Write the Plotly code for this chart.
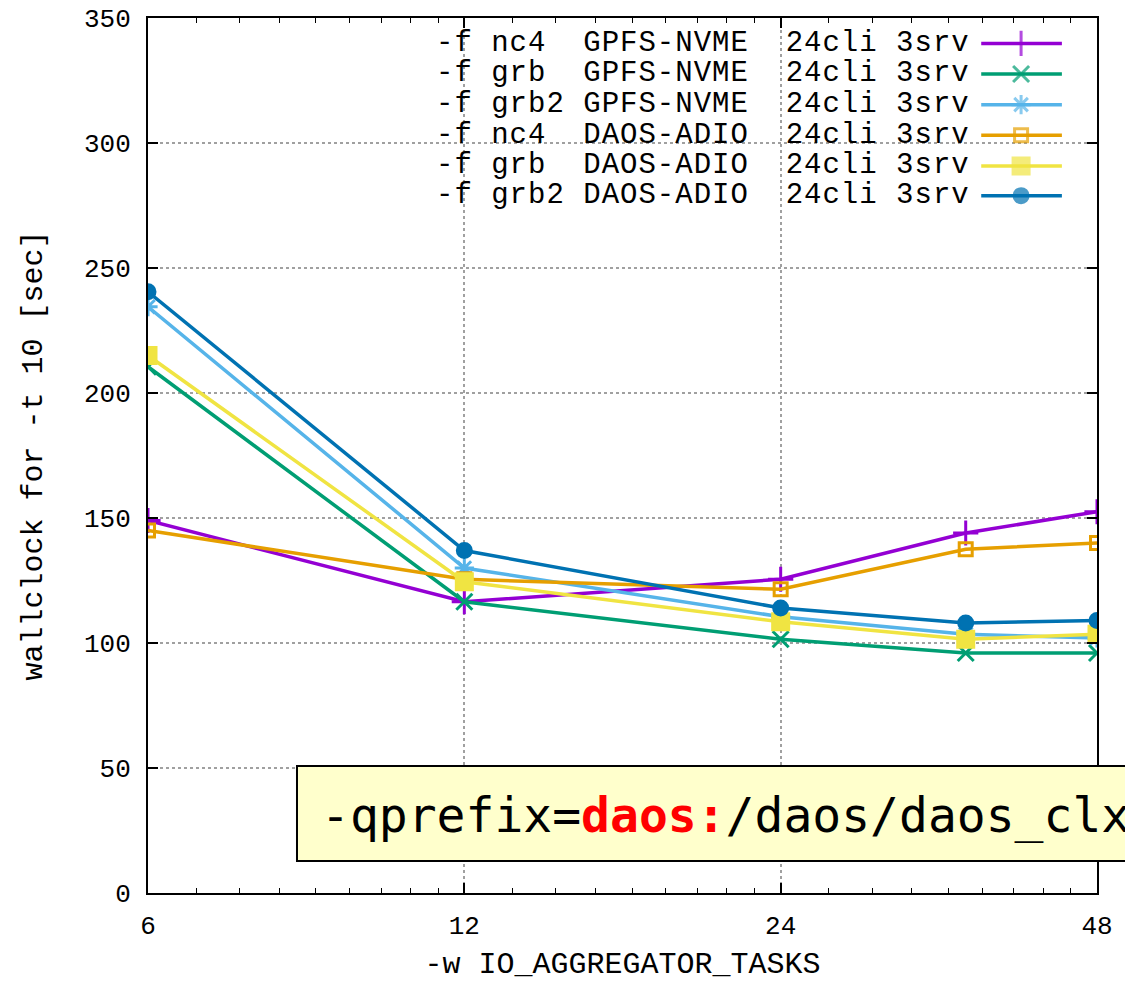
import plotly.graph_objects as go

# ---- data ----
tasks = [6, 12, 24, 36, 48]
nc4_gpfs = [149, 116.5, 125.5, 144, 152.5]
grb_gpfs = [210.5, 116.5, 101.5, 96, 96]
grb2_gpfs = [234.5, 130, 110.5, 103.5, 102]
nc4_daos = [145, 125.5, 121.5, 137.5, 140]
grb_daos = [215, 124.5, 108.5, 101.5, 103.5]
grb2_daos = [240.5, 137, 114, 108, 109]

x_ticks = [6, 12, 24, 48]
y_ticks = [0, 50, 100, 150, 200, 250, 300, 350]

labels = [
    "-f nc4  GPFS-NVME  24cli 3srv",
    "-f grb  GPFS-NVME  24cli 3srv",
    "-f grb2 GPFS-NVME  24cli 3srv",
    "-f nc4  DAOS-ADIO  24cli 3srv",
    "-f grb  DAOS-ADIO  24cli 3srv",
    "-f grb2 DAOS-ADIO  24cli 3srv",
]
series = [nc4_gpfs, grb_gpfs, grb2_gpfs, nc4_daos, grb_daos, grb2_daos]
colors = ["#9400d3", "#009e73", "#56b4e9", "#e69f00", "#f0e442", "#0072b2"]
symbols = ["cross-thin", "x-thin", "asterisk", "square-open", "square", "circle"]
msizes = [18, 16, 16, 13, 16, 14]

FONT = "Liberation Mono"

# minor ticks, linear within each doubling (gnuplot style)
minor = []
for a, b in zip(x_ticks[:-1], x_ticks[1:]):
    step = (b - a) / 9
    minor += [a + k * step for k in range(1, 9)]

fig = go.Figure()

for lab, ys, c, s, ms in zip(labels, series, colors, symbols, msizes):
    fig.add_trace(go.Scatter(
        x=tasks, y=ys, mode="lines+markers", name=lab,
        line=dict(color=c, width=3.5),
        marker=dict(symbol=s, size=ms, color=c,
                    line=dict(color=c, width=3)),
        showlegend=False,
    ))

# custom legend (text left, sample right), on an overlay axis in [0,1]
leg_rows = [0.971, 0.936, 0.901, 0.866, 0.831, 0.797]
lx0, lxm, lx1 = 0.878, 0.920, 0.963
for lab, c, s, ms, ry in zip(labels, colors, symbols, msizes, leg_rows):
    fig.add_trace(go.Scatter(
        x=[lx0, lxm, lx1], y=[ry, ry, ry], xaxis="x2", yaxis="y2",
        mode="lines+markers", showlegend=False, hoverinfo="skip",
        line=dict(color=c, width=3.5),
        marker=dict(symbol=s, size=[0, ms, 0], color=c,
                    line=dict(color=c, width=3)),
    ))
    fig.add_annotation(xref="paper", yref="paper", x=0.868, y=ry,
                       xanchor="right", yanchor="middle", showarrow=False,
                       text="<span style='letter-spacing:1px'>"
                            + lab.replace(" ", "&nbsp;") + "</span>",
                       font=dict(family=FONT, size=29, color="black"))

# yellow callout box
fig.add_shape(type="rect", xref="paper", yref="paper",
              x0=0.157, x1=1.05, y0=0.0366, y1=0.1451,
              fillcolor="#ffffcc", line=dict(color="black", width=2),
              layer="above")
fig.add_annotation(xref="paper", yref="paper", x=0.180, y=0.089,
                   xanchor="left", yanchor="middle", showarrow=False,
                   text="-qprefix=<b><span style='color:#ff0000'>daos:</span></b>/daos/daos_clx",
                   font=dict(family="DejaVu Sans Mono", size=48, color="black"))

fig.update_layout(
    width=1125, height=982,
    margin=dict(l=148, r=28, t=18, b=89),
    paper_bgcolor="white", plot_bgcolor="white",
    font=dict(family=FONT, color="black"),
    xaxis=dict(
        type="log", range=[0.778151, 1.681241],
        tickvals=x_ticks, ticktext=[str(v) for v in x_ticks],
        ticks="inside", ticklen=10, tickwidth=1.5, tickcolor="black",
        minor=dict(tickvals=minor, ticks="inside", ticklen=5,
                   tickcolor="black", tickwidth=1.2, showgrid=False),
        showline=True, linecolor="black", linewidth=2, mirror="ticks",
        showgrid=True, gridcolor="#a0a0a0", griddash="dot", gridwidth=1.5,
        zeroline=False, tickfont=dict(family=FONT, size=26),
        ticklabelstandoff=8,
        title=dict(text="-w IO_AGGREGATOR_TASKS", standoff=22,
                   font=dict(family=FONT, size=30)),
        automargin=False,
    ),
    yaxis=dict(
        range=[0, 350], tickvals=y_ticks,
        ticks="inside", ticklen=10, tickwidth=1.5, tickcolor="black",
        showline=True, linecolor="black", linewidth=2, mirror="ticks",
        showgrid=True, gridcolor="#a0a0a0", griddash="dot", gridwidth=1.5,
        zeroline=False, tickfont=dict(family=FONT, size=26),
        ticklabelstandoff=10,
        title=dict(text="wallclock for -t 10 [sec]", standoff=32,
                   font=dict(family=FONT, size=30)),
        automargin=False,
    ),
    xaxis2=dict(overlaying="x", range=[0, 1], visible=False, fixedrange=True),
    yaxis2=dict(overlaying="y", range=[0, 1], visible=False, fixedrange=True),
)

fig.write_html("out.html")
